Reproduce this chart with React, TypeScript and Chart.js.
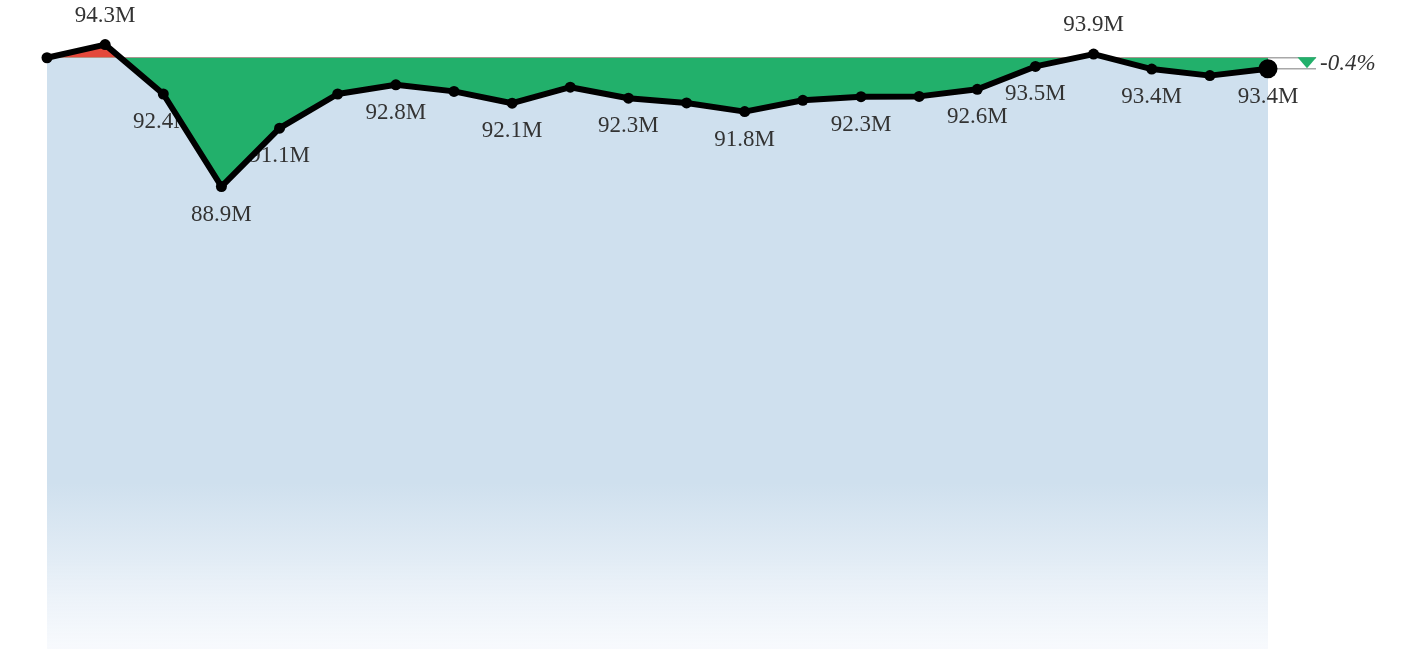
import { useEffect, useRef } from 'react';
import { Chart, registerables } from 'chart.js';

Chart.register(...registerables);

const periods = ['P1', 'P2', 'P3', 'P4', 'P5', 'P6', 'P7', 'P8', 'P9', 'P10', 'P11', 'P12', 'P13', 'P14', 'P15', 'P16', 'P17', 'P18', 'P19', 'P20', 'P21', 'P22'];
const values = [93.80, 94.30, 92.42, 88.90, 91.12, 92.42, 92.77, 92.52, 92.07, 92.68, 92.26, 92.08, 91.75, 92.18, 92.32, 92.33, 92.60, 93.47, 93.94, 93.37, 93.12, 93.38];
// label placement per point: 'a' above, 'b' below, '' none
const labelPlacement = ['', 'a', 'b', 'b', 'b', '', 'b', '', 'b', '', 'b', '', 'b', '', 'b', '', 'b', 'b', 'a', 'b', '', 'b'];
const pointRadii = [5.5, 5.5, 5.5, 5.5, 5.5, 5.5, 5.5, 5.5, 5.5, 5.5, 5.5, 5.5, 5.5, 5.5, 5.5, 5.5, 5.5, 5.5, 5.5, 5.5, 5.5, 9.5];

const BASELINE = values[0];
const LAST = values[values.length - 1];
const GREEN = '#22b06b';
const RED = '#e4483b';
const BLUE = 'rgb(207,224,238)';
const TEXT = '#333333';
const LABEL_FONT = '23px "Liberation Serif", "Times New Roman", serif';

export default function App() {
  const ref = useRef<HTMLCanvasElement | null>(null);

  useEffect(() => {
    if (!ref.current) return;

    const baselinePlugin = {
      id: 'baselinePlugin',
      beforeDatasetsDraw(chart: any) {
        const ctx = chart.ctx;
        const y = chart.scales.y;
        const meta = chart.getDatasetMeta(0);
        const pts = meta.data;
        const x0 = pts[0].x;
        const xl = pts[pts.length - 1].x;
        const xe = xl + 48;
        const yb = y.getPixelForValue(BASELINE);
        const yl = y.getPixelForValue(LAST);
        ctx.save();
        ctx.strokeStyle = '#a8a8a8';
        ctx.lineWidth = 1.5;
        ctx.beginPath();
        ctx.moveTo(x0, yb);
        ctx.lineTo(xe, yb);
        ctx.moveTo(xl, yl);
        ctx.lineTo(xe, yl);
        ctx.stroke();
        ctx.restore();
      },
      afterDatasetDraw(chart: any, args: any) {
        if (args.index !== 1) return;
        const ctx = chart.ctx;
        const meta = chart.getDatasetMeta(0);
        ctx.save();
        ctx.font = LABEL_FONT;
        ctx.fillStyle = TEXT;
        ctx.textAlign = 'center';
        ctx.textBaseline = 'middle';
        meta.data.forEach((p: any, i: number) => {
          const pl = labelPlacement[i];
          if (!pl) return;
          const txt = values[i].toFixed(1) + 'M';
          const ty = pl === 'a' ? p.y - 29 : p.y + 28;
          ctx.fillText(txt, p.x, ty);
        });
        ctx.restore();
      },
      afterDatasetsDraw(chart: any) {
        const ctx = chart.ctx;
        const y = chart.scales.y;
        const meta = chart.getDatasetMeta(0);
        const pts = meta.data;
        const xl = pts[pts.length - 1].x;
        const yb = y.getPixelForValue(BASELINE);
        const yl = y.getPixelForValue(LAST);
        const cx = xl + 39;
        const pct = ((LAST - BASELINE) / BASELINE) * 100;
        const up = pct >= 0;
        ctx.save();
        ctx.fillStyle = up ? RED : GREEN;
        ctx.beginPath();
        const top = Math.min(yb, yl) - 0.5;
        const bot = Math.max(yb, yl) - 0.5;
        if (up) {
          ctx.moveTo(cx - 9.5, bot);
          ctx.lineTo(cx + 9.5, bot);
          ctx.lineTo(cx, top);
        } else {
          ctx.moveTo(cx - 9.5, top);
          ctx.lineTo(cx + 9.5, top);
          ctx.lineTo(cx, bot);
        }
        ctx.closePath();
        ctx.fill();
        ctx.font = 'italic 23px "Liberation Serif", "Times New Roman", serif';
        ctx.fillStyle = TEXT;
        ctx.textAlign = 'left';
        ctx.textBaseline = 'middle';
        ctx.fillText((pct >= 0 ? '+' : '') + pct.toFixed(1) + '%', cx + 13, (yb + yl) / 2 + 1);
        ctx.restore();
      },
    };

    const chart = new Chart(ref.current, {
      type: 'line',
      data: {
        labels: periods,
        datasets: [
          {
            data: values,
            borderColor: '#000000',
            borderWidth: 6,
            borderCapStyle: 'round',
            borderJoinStyle: 'round',
            tension: 0,
            pointRadius: pointRadii,
            pointBackgroundColor: '#000000',
            pointBorderWidth: 0,
            pointHoverRadius: pointRadii,
            fill: { target: { value: BASELINE }, above: RED, below: GREEN },
            clip: false,
          } as any,
          {
            data: values,
            borderWidth: 0,
            borderColor: 'rgba(0,0,0,0)',
            pointRadius: 0,
            tension: 0,
            fill: 'start',
            backgroundColor: (c: any) => {
              const area = c.chart.chartArea;
              if (!area) return BLUE;
              const g = c.chart.ctx.createLinearGradient(0, area.top, 0, area.bottom);
              g.addColorStop(0, BLUE);
              g.addColorStop(0.74, BLUE);
              g.addColorStop(0.86, 'rgb(226,236,245)');
              g.addColorStop(1, 'rgba(236,242,250,0.4)');
              return g;
            },
          } as any,
        ],
      },
      options: {
        animation: false,
        responsive: false,
        devicePixelRatio: 1,
        layout: { autoPadding: false, padding: { left: 47, right: 143, top: 10, bottom: 0 } },
        plugins: {
          legend: { display: false },
          tooltip: { enabled: false },
        },
        scales: {
          x: { display: false, offset: false },
          y: { display: false, min: 71.3, max: 95.617 },
        },
      },
      plugins: [baselinePlugin],
    });

    return () => chart.destroy();
  }, []);

  return (
    <div style={{ position: 'absolute', left: 0, top: 0, width: 1411, height: 649 }}>
      <canvas ref={ref} width={1411} height={649} style={{ display: 'block', width: 1411, height: 649 }} />
    </div>
  );
}
